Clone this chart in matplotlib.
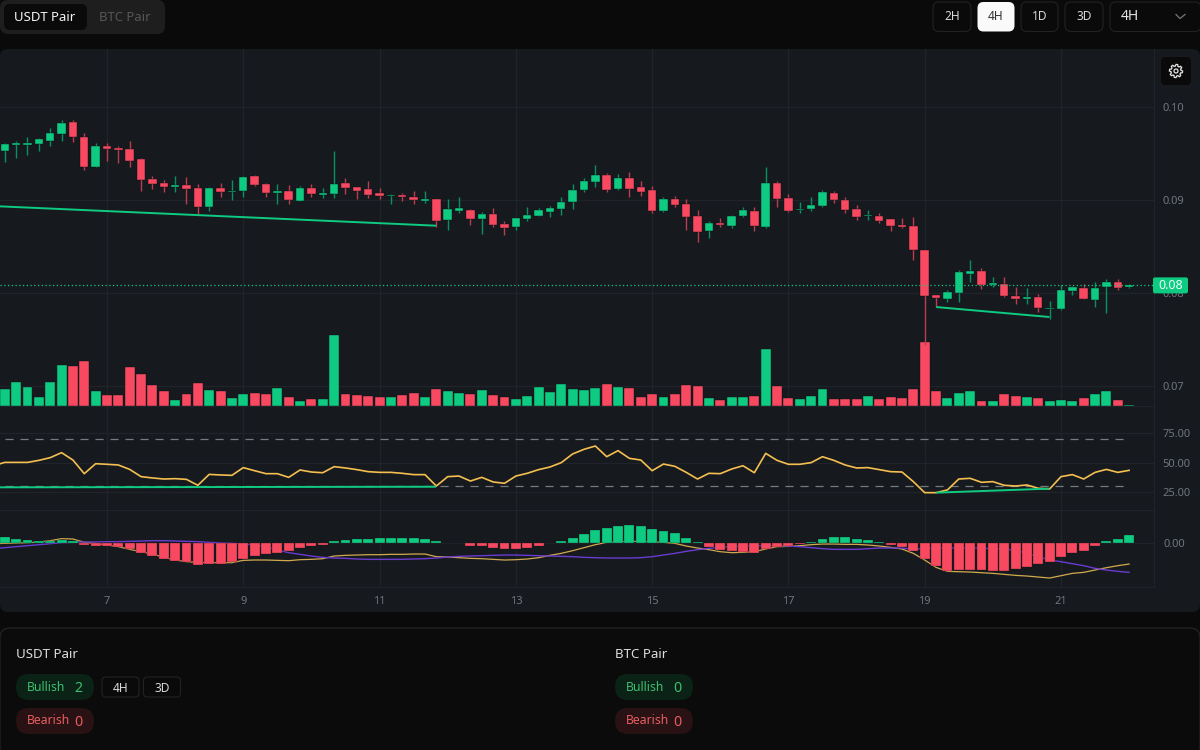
import numpy as np
import matplotlib
matplotlib.use('Agg')
import matplotlib.pyplot as plt
from matplotlib.patches import FancyBboxPatch, Circle, Polygon

plt.rcParams['font.family'] = ['Noto Sans', 'DejaVu Sans']

# 4H candles, prices in units of 0.00001
opens = [9527,9595,9595,9602,9634,9706,9838,9677,9351,9584,9555,9545,9444,9222,9183,9140,9161,9129,8928,9129,
         9089,9100,9258,9172,9079,9097,8989,9129,9057,9068,9183,9140,9118,9071,9039,9051,9033,8990,9008,8785,
         8886,8896,8796,8850,8746,8707,8796,8828,8875,8907,8979,9108,9190,9269,9119,9241,9140,9108,8886,9008,
         8957,8828,8667,8757,8724,8828,8886,8714,9183,9018,8889,8903,8939,9079,9000,8907,8828,8828,8792,8735,
         8724,8462,7978,7935,7996,8208,8240,8082,8097,7968,7939,7957,7828,7828,8018,8054,7928,8061,8118,8065]
highs = [9616,9634,9674,9666,9774,9860,9860,9717,9613,9613,9577,9634,9448,9261,9215,9258,9251,9172,9140,9179,
         9215,9258,9269,9179,9172,9161,9150,9172,9129,9527,9240,9140,9204,9129,9061,9072,9101,9101,9011,9011,
         9033,8904,8871,8918,8778,8807,8929,8914,8939,9033,9172,9233,9377,9291,9280,9301,9201,9151,9033,9040,
         9008,8896,8775,8807,8836,8929,8925,9352,9201,9061,8978,9029,9107,9097,9032,8946,8889,8860,8796,8806,
         8817,8462,7978,8032,8247,8355,8265,8168,8168,8065,8054,7986,7914,8086,8075,8093,8115,8150,8150,8093]
lows = [9405,9455,9484,9527,9584,9638,9627,9326,9351,9423,9401,9355,9100,9118,9089,9086,8957,8849,8878,9028,
        9000,9036,9150,9028,8957,8957,8989,9028,9018,9018,9068,9011,9018,9011,8957,8990,8957,8968,8714,8674,
        8864,8735,8635,8714,8624,8678,8775,8828,8818,8839,8904,9090,9144,9090,9108,9029,9040,8857,8868,8925,
        8674,8552,8592,8707,8696,8818,8663,8703,8925,8874,8864,8885,8928,8971,8864,8785,8785,8753,8667,8695,
        8351,7441,7853,7907,7907,8118,8047,8068,7957,7885,7885,7796,7724,7821,7978,7935,7846,7785,8029,8057]
closes = [9602,9609,9616,9652,9717,9824,9677,9351,9584,9552,9534,9423,9211,9172,9140,9161,9118,8928,9129,9086,
          9100,9247,9161,9079,9093,9000,9129,9068,9071,9172,9129,9097,9057,9046,9057,9029,9000,9011,8775,8900,
          8911,8796,8850,8735,8703,8807,8839,8889,8918,8979,9108,9201,9269,9108,9241,9119,9090,8886,9008,8947,
          8818,8656,8753,8735,8828,8889,8724,9183,9011,8885,8907,8946,9090,9000,8889,8817,8839,8774,8724,8713,
          8466,7971,7950,8007,8229,8240,8086,8108,7968,7935,7957,7839,7839,8036,8065,7935,8054,8118,8050,8082]
volumes = [51,73,57,28,71,124,121,135,45,34,34,116,96,62,45,17,36,68,48,45,
           25,36,39,36,54,28,14,20,20,214,36,34,31,28,28,34,39,28,51,45,
           39,36,48,34,28,20,31,57,42,66,51,48,54,65,57,54,26,36,28,37,
           62,60,25,17,28,28,31,172,60,25,20,31,51,20,20,20,31,20,28,23,
           51,192,45,23,39,45,14,14,36,31,28,23,14,17,14,23,36,45,17,3]
# rsi and the macd lines begin one bar before the first candle, off the left edge
rsi = [47.3,50.1,50.1,50.1,51.8,54.1,58.3,52.1,40.6,49.0,48.5,47.9,44.2,38.1,37.0,36.1,36.4,35.8,30.8,40.0,39.5,
       39.2,45.7,43.1,40.6,40.6,37.5,43.7,42.0,41.4,46.5,45.4,44.0,42.3,41.7,41.7,40.9,39.8,39.8,30.2,38.1,
       38.6,34.4,37.5,33.6,32.5,38.6,40.9,44.0,46.2,49.9,57.2,61.1,63.9,54.9,60.0,53.5,52.1,43.1,48.7,46.8,
       41.7,36.1,40.9,40.6,44.5,47.3,41.4,57.7,51.8,48.5,48.5,49.9,54.9,51.8,47.9,45.4,45.7,44.0,42.3,42.0,
       33.9,24.6,24.6,26.9,36.1,36.7,33.3,33.9,30.8,30.2,31.1,28.3,27.7,38.1,39.8,36.1,41.7,44.2,41.7,43.4]
macd_hist = [20,14,11,8,8,10,8,-5,-8,-8,-11,-17,-28,-38,-47,-53,-56,-65,-62,-62,
             -57,-48,-38,-33,-28,-23,-13,-8,-5,7,10,13,12,15,15,15,15,12,7,1,
             1,-8,-8,-14,-17,-17,-14,-8,1,6,17,28,40,46,52,54,51,43,37,31,
             17,4,-10,-20,-24,-26,-29,-18,-10,-7,-3,4,12,18,18,12,9,4,-5,-12,
             -23,-48,-68,-82,-81,-81,-81,-82,-82,-78,-70,-62,-55,-42,-28,-22,-8,6,14,26]
macd_line = [-1,0,1,2,4,8,14,13,3,0,-5,-10,-18,-25,-32,-42,-50,-55,-57,-58,-58,
             -58,-51,-50,-50,-51,-52,-49,-48,-46,-38,-36,-35,-34,-34,-33,-33,-32,-32,-40,-41,
             -43,-45,-46,-48,-50,-49,-47,-43,-36,-30,-22,-13,-4,3,5,6,6,5,3,0,
             -8,-14,-19,-25,-28,-27,-25,-17,-10,-9,-7,-4,-2,-2,-3,-3,-5,-8,-12,-17,
             -30,-50,-72,-84,-85,-86,-88,-90,-93,-96,-98,-101,-104,-97,-90,-87,-80,-73,-67,-62]
macd_signal = [-16,-13,-10,-7,-4,-1,2,3,4,4,5,5,6,7,8,8,7,6,5,3,1,
               0,-2,-5,-10,-20,-28,-33,-38,-42,-44,-45,-47,-48,-48,-48,-48,-47,-46,-44,-41,
               -39,-38,-37,-36,-35,-35,-36,-37,-38,-39,-40,-42,-43,-44,-44,-44,-43,-40,-35,-30,
               -24,-19,-15,-12,-10,-9,-8,-7,-7,-8,-10,-13,-16,-18,-18,-18,-16,-14,-14,-14,
               -18,-15,-15,-14,-14,-14,-15,-16,-17,-21,-30,-40,-50,-55,-61,-67,-75,-80,-84,-87]

first_day = 5.5
days = first_day + np.arange(len(closes)) / 6
line_days = first_day + np.arange(-1, len(closes)) / 6
day_ticks = [7, 9, 11, 13, 15, 17, 19, 21]
price_ticks = [0.07, 0.08, 0.09, 0.10]
rsi_ticks = [25, 50, 75]
rsi_bands = [30, 70]

# divergence lines: (day, value)
price_div_days = [[5.43, 11.83], [19.17, 20.83]]
price_div_vals = [[0.08932, 0.08724], [0.07849, 0.07742]]
rsi_div_days = [[5.43, 11.83], [19.17, 20.83]]
rsi_div_vals = [[29.1, 29.6], [24.6, 28.0]]

GREEN = '#0ecb81'
RED = '#f84960'
BG = '#0a0a0a'
PANEL = '#161a1f'
GRID = '#20242a'
TICK = '#70757d'
W, H = 1200, 750
xlim = (5.43, 22.365)

fig = plt.figure(figsize=(W / 100, H / 100), dpi=100, facecolor=BG)

# page chrome, drawn in pixel coordinates
ui = fig.add_axes([0, 0, 1, 1], zorder=0)
ui.set_xlim(0, W)
ui.set_ylim(H, 0)
ui.axis('off')


def box(x0, y0, x1, y1, face, edge='none', r=6, lw=1.0, ax=ui):
    ax.add_patch(FancyBboxPatch((x0 + r, y0 + r), x1 - x0 - 2 * r, y1 - y0 - 2 * r,
                                boxstyle='round,pad=%g,rounding_size=%g' % (r, r),
                                fc=face, ec=edge, lw=lw, mutation_aspect=1))


def label(x, y, s, color='#e5e5e5', size=9, ha='center', ax=ui):
    ax.text(x, y, s, color=color, fontsize=size, ha=ha, va='center')


box(0, 0, 165, 34, '#1e1e1e', r=8)
box(4, 4, 87, 30, '#0a0a0a', r=6)
label(45, 17.5, 'USDT Pair', '#f2f2f2', 9.5)
label(125, 17.5, 'BTC Pair', '#555555', 9.5)

for x0, x1, s in [(933, 971, '2H'), (1021, 1058, '1D'), (1065, 1103, '3D')]:
    box(x0, 2, x1, 31.5, BG, '#202226', r=6, lw=0.8)
    label((x0 + x1) / 2, 17, s, '#d8d8d8', 8.6)
box(977.5, 2, 1014.5, 31.5, '#fafafa', r=6)
label(996, 17, '4H', '#333333', 8.6)
box(1110, 2, 1201, 31.5, BG, '#202226', r=6, lw=0.8)
label(1130, 17, '4H', '#e5e5e5', 10)
ui.plot([1176, 1180, 1185], [14.5, 18.5, 14.5], color='#777777', lw=0.9)

box(0, 49, 1200, 612, PANEL, r=8)

# bottom summary card
box(0, 628, 1200, 760, '#0b0b0b', '#222426', r=10, lw=0.9)
for x0, pair in [(16, 'USDT Pair'), (615, 'BTC Pair')]:
    label(x0, 654, pair, '#dcdcdc', 9.6, ha='left')
for x0, n_bull, n_bear in [(16, '2', '0'), (615, '0', '0')]:
    box(x0, 674, x0 + 78, 700, '#0b2216', r=13)
    label(x0 + 11, 687.5, 'Bullish', '#3dbf6f', 8.8, ha='left')
    label(x0 + 58, 688, n_bull, '#3dbf6f', 10.2, ha='left')
    box(x0, 708, x0 + 78, 734, '#291213', r=13)
    label(x0 + 11, 721, 'Bearish', '#e85d62', 8.8, ha='left')
    label(x0 + 58, 722, n_bear, '#e85d62', 10.2, ha='left')
for x0, x1, s in [(102, 139, '4H'), (143.5, 180.5, '3D')]:
    box(x0, 677, x1, 697, BG, '#202226', r=4, lw=0.8)
    label((x0 + x1) / 2, 688, s, '#d8d8d8', 8.6)


def pane(y0, y1, zorder=1):
    ax = fig.add_axes([0, 1 - y1 / H, 1154 / W, (y1 - y0) / H], zorder=zorder)
    ax.patch.set_visible(False)
    ax.set_xlim(*xlim)
    ax.set_xticks(day_ticks)
    ax.grid(True, color=GRID, lw=0.9)
    ax.set_axisbelow(True)
    ax.yaxis.tick_right()
    ax.tick_params(length=0, labelcolor=TICK, labelsize=8, pad=6, labelbottom=False)
    for name in ['top', 'left']:
        ax.spines[name].set_visible(False)
    for name in ['bottom', 'right']:
        ax.spines[name].set_color(GRID)
    return ax


# price + volume pane
ax_price = pane(49, 406, zorder=2)
ax_price.set_ylim(0.06785, 0.10624)
ax_price.set_yticks(price_ticks)
ax_price.set_yticklabels(['%.2f' % p for p in price_ticks])

o = np.array(opens) / 1e5
h = np.array(highs) / 1e5
l = np.array(lows) / 1e5
c = np.array(closes) / 1e5
colors = [GREEN if b >= a else RED for a, b in zip(o, c)]
wick_colors = ['#0a9061' if b >= a else '#bd3d50' for a, b in zip(o, c)]

# volume sits on the bottom of the price pane, 3 units = 1 px
ax_vol = ax_price.twinx()
ax_vol.set_ylim(0, 357 * 3)
ax_vol.axis('off')
ax_vol.bar(days, volumes, width=0.146, color=colors, edgecolor='#10141a', linewidth=0.3, zorder=1)

ax_candle = ax_price.twinx()
ax_candle.set_ylim(ax_price.get_ylim())
ax_candle.axis('off')
# twinx moved the price ticks to the left, put them back
ax_price.yaxis.tick_right()
ax_price.tick_params(length=0, labelcolor=TICK, labelsize=8, pad=6)
ax_candle.vlines(days, l, h, color=wick_colors, lw=1.0, zorder=2)
ax_candle.bar(days, np.abs(c - o), bottom=np.minimum(o, c), width=0.124, color=colors,
              edgecolor='#0c0f13', linewidth=0.3, zorder=3)
for dx, dy in zip(price_div_days, price_div_vals):
    ax_candle.plot(dx, dy, color=GREEN, lw=1.4, zorder=4, solid_capstyle='butt')
ax_candle.axhline(closes[-1] / 1e5, color=GREEN, lw=0.9, ls=(0, (1, 2)), zorder=4)

# RSI pane
ax_rsi = pane(406, 510)
ax_rsi.set_ylim(10.0, 97.6)
ax_rsi.set_yticks(rsi_ticks)
ax_rsi.set_yticklabels(['%.2f' % v for v in rsi_ticks])
for v in rsi_bands:
    ax_rsi.plot([days[0], days[-1]], [v, v], color='#76797e', lw=0.9, ls=(0, (6.5, 5.5)), zorder=2)
ax_rsi.plot(line_days, rsi, color='#f4bf4f', lw=1.2, zorder=3)
for dx, dy in zip(rsi_div_days, rsi_div_vals):
    ax_rsi.plot(dx, dy, color=GREEN, lw=1.4, zorder=4, solid_capstyle='butt')

# MACD pane, 3 units = 1 px
ax_macd = pane(510, 586.7)
ax_macd.set_ylim(-130, 100)
ax_macd.set_yticks([0])
ax_macd.set_yticklabels(['0.00'])
ax_macd.plot(line_days, macd_line, color='#d2a94e', lw=0.9, zorder=2)
ax_macd.plot(line_days, macd_signal, color='#6a3bd0', lw=1.0, zorder=2)
ax_macd.bar(days, macd_hist, width=0.146, color=[GREEN if v >= 0 else RED for v in macd_hist],
            edgecolor='#10141a', linewidth=0.2, zorder=3)
ax_macd.set_xticklabels([str(d) for d in day_ticks])
ax_macd.tick_params(labelbottom=True, pad=7)
ax_macd.spines['top'].set_visible(True)
ax_macd.spines['top'].set_color(GRID)
for t in ax_macd.get_xticklabels():
    t.set_fontweight('semibold')

# overlay: last price tag and settings button
ov = fig.add_axes([0, 0, 1, 1], zorder=5)
ov.set_xlim(0, W)
ov.set_ylim(H, 0)
ov.axis('off')
last_y = H - ax_candle.transData.transform((xlim[0], closes[-1] / 1e5))[1]
box(1153, last_y - 8, 1188, last_y + 8, GREEN, r=2, ax=ov)
label(1171, last_y + 0.5, '%.2f' % (closes[-1] / 1e5), '#e8fff5', 9, ax=ov)

box(1161, 57, 1191, 85, BG, r=4, ax=ov)
ang = np.linspace(0, 2 * np.pi, 48, endpoint=False)
rad = np.where(((ang + 0.13) % (2 * np.pi / 8)) < (2 * np.pi / 16), 6.6, 5.0)
ov.add_patch(Polygon(np.c_[1176 + rad * np.cos(ang), 71 + rad * np.sin(ang)], closed=True,
                     fc='none', ec='#e6e6e6', lw=0.9))
ov.add_patch(Circle((1176, 71), 2.0, fc='none', ec='#e6e6e6', lw=0.9))

fig.savefig('out.png', dpi=100, facecolor=BG)
